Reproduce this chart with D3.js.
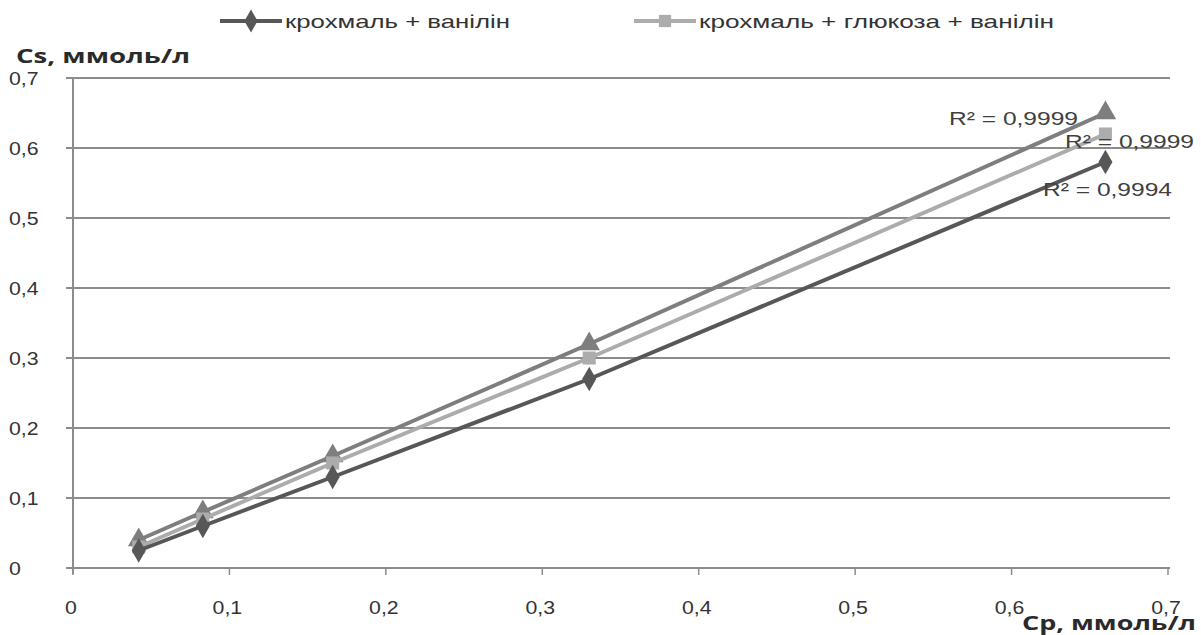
<!DOCTYPE html>
<html><head><meta charset="utf-8">
<script src="https://cdn.jsdelivr.net/npm/d3@7"></script>
<style>body{margin:0;background:#fff}svg{display:block}</style>
</head><body>
<script>
const xValues = [0.042, 0.083, 0.166, 0.33, 0.66];
const seriesDiamond = [0.025, 0.06, 0.13, 0.27, 0.58];
const seriesSquare = [0.03, 0.07, 0.15, 0.30, 0.62];
const seriesTriangle = [0.04, 0.08, 0.16, 0.32, 0.65];
const seriesNames = ["крохмаль + ванілін", "крохмаль + глюкоза + ванілін", ""];
const xTicks = [0, 0.1, 0.2, 0.3, 0.4, 0.5, 0.6, 0.7];
const yTicks = [0, 0.1, 0.2, 0.3, 0.4, 0.5, 0.6, 0.7];
const r2Labels = ["R² = 0,9994", "R² = 0,9999", "R² = 0,9999"];

const W = 1201, H = 635;
const svg = d3.select("body").append("svg").attr("width", W).attr("height", H);
const x = d3.scaleLinear().domain([0, 0.7]).range([73, 1168]);
const y = d3.scaleLinear().domain([0, 0.7]).range([568, 78]);
const fmt = d => String(d).replace(".", ",");
const font = "'Liberation Sans', Arial, sans-serif";
const boldFont = "'Open Sans', 'Liberation Sans', sans-serif";
function stretch(sel, f) {
  sel.each(function() {
    const len = this.getComputedTextLength();
    d3.select(this).attr("textLength", len * f).attr("lengthAdjust", "spacingAndGlyphs");
  });
}
function fitTo(sel, w) {
  sel.attr("textLength", w).attr("lengthAdjust", "spacingAndGlyphs");
}

// gridlines
svg.append("g").selectAll("line").data(yTicks).join("line")
  .attr("x1", x(0) - 7).attr("x2", 1170)
  .attr("y1", d => y(d)).attr("y2", d => y(d))
  .attr("stroke", "#8c8c8c").attr("stroke-width", 2);
svg.append("line").attr("x1", x(0)).attr("x2", x(0)).attr("y1", y(0.7)).attr("y2", y(0) + 6)
  .attr("stroke", "#8c8c8c").attr("stroke-width", 2);
svg.append("g").selectAll("line").data(xTicks).join("line")
  .attr("x1", d => x(d)).attr("x2", d => x(d)).attr("y1", y(0)).attr("y2", y(0) + 7)
  .attr("stroke", "#8c8c8c").attr("stroke-width", 1.5);

// y labels
svg.append("g").selectAll("text").data(yTicks).join("text")
  .attr("x", 9).attr("y", d => y(d) + 7)
  .attr("font-family", font).attr("font-size", 19).attr("fill", "#333")
  .text(d => fmt(d)).call(stretch, 1.12);
// x labels
svg.append("g").selectAll("text").data(xTicks).join("text")
  .attr("x", d => x(d) - 2).attr("y", 614).attr("text-anchor", "middle")
  .attr("font-family", font).attr("font-size", 19).attr("fill", "#333")
  .text(d => fmt(d)).call(stretch, 1.12);

// axis titles
svg.append("text").attr("x", 16).attr("y", 63).attr("font-family", boldFont)
  .attr("font-weight", "bold").attr("font-size", 20).attr("fill", "#2a2a2a")
  .text("Cs, ммоль/л").call(fitTo, 174);
svg.append("text").attr("x", 1022).attr("y", 630).attr("font-family", boldFont)
  .attr("font-weight", "bold").attr("font-size", 20).attr("fill", "#2a2a2a")
  .text("Cp, ммоль/л").call(fitTo, 174);

const series = [
  {vals: seriesDiamond, color: "#575757", shape: d3.symbolDiamond, size: 170},
  {vals: seriesSquare, color: "#acacac", shape: d3.symbolSquare, size: 170},
  {vals: seriesTriangle, color: "#7e7e7e", shape: d3.symbolTriangle, size: 200}
];
const line = d3.line().x(d => x(d[0])).y(d => y(d[1]));
[2, 1, 0].forEach(i => {
  const s = series[i];
  const pts = xValues.map((xv, j) => [xv, s.vals[j]]);
  svg.append("path").attr("d", line(pts)).attr("fill", "none")
    .attr("stroke", s.color).attr("stroke-width", 4);
  svg.append("g").selectAll("path").data(pts).join("path")
    .attr("transform", d => `translate(${x(d[0])},${y(d[1])})`)
    .attr("d", d3.symbol().type(s.shape).size(s.size)).attr("fill", s.color);
});

// R2 labels
const r2Pos = [[1043, 196], [1065, 148], [949, 125]];
r2Labels.forEach((t, i) => {
  svg.append("text").attr("x", r2Pos[i][0]).attr("y", r2Pos[i][1])
    .attr("font-family", font).attr("font-size", 19).attr("fill", "#404040")
    .text(t).call(fitTo, 129);
});

// legend
const leg = [
  {x0: 220, w: 225, color: "#575757", shape: d3.symbolDiamond, name: seriesNames[0]},
  {x0: 634, w: 355, color: "#acacac", shape: d3.symbolSquare, name: seriesNames[1]}
];
leg.forEach(l => {
  svg.append("line").attr("x1", l.x0).attr("x2", l.x0 + 62).attr("y1", 21).attr("y2", 21)
    .attr("stroke", l.color).attr("stroke-width", 4);
  svg.append("path").attr("transform", `translate(${l.x0 + 31},21)`)
    .attr("d", d3.symbol().type(l.shape).size(150)).attr("fill", l.color);
  svg.append("text").attr("x", l.x0 + 65).attr("y", 28).attr("font-family", font)
    .attr("font-size", 19).attr("fill", "#333").text(l.name).call(fitTo, l.w);
});
</script>
</body></html>
